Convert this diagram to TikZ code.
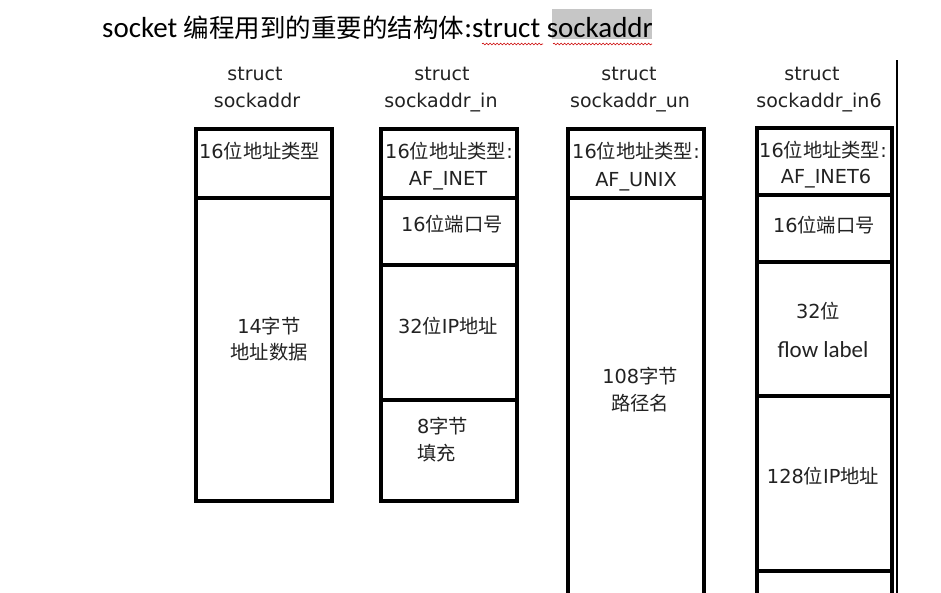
\documentclass[tikz,border=0pt]{standalone}
\usepackage{fontspec}
\setmainfont{DejaVu Sans}
\newfontfamily\cjk{Noto Sans CJK SC}
\newfontfamily\carl{Carlito}
\usetikzlibrary{decorations.pathmorphing}
\newcommand\cj[1]{{\cjk #1}}
\definecolor{txt}{HTML}{222222}
\begin{document}
\begin{tikzpicture}[x=1pt,y=-1pt,
  boxline/.style={line width=3.3pt, line cap=rect},
  lbl/.style={font=\fontsize{19}{27}\selectfont, text=txt, inner sep=0pt, anchor=base},
  cell/.style={font=\fontsize{19.3}{26.5}\selectfont, text=txt, inner sep=0pt, anchor=base},
  wavy/.style={red!80!black, line width=0.6pt, decorate, decoration={snake, amplitude=0.9pt, segment length=3.5pt}}]
\useasboundingbox (0,0) rectangle (941,592);
\clip (0,0) rectangle (941,592);
\fill[white] (0,0) rectangle (941,592);
% title
\fill[gray!45] (552,9) rectangle (652,39);
\node[anchor=base west, inner sep=0pt, text=black] (title) at (102,37)
  {{\carl\fontsize{29}{32}\selectfont socket }{\cjk\fontsize{25.5}{32}\selectfont 编程用到的重要的结构体}{\carl\fontsize{29}{32}\selectfont :struct sockaddr}};
\draw[wavy] (482,44) -- (543,44);
\draw[wavy] (553,44) -- (652,44);
% column labels
\node[lbl] (l1a) at (255,80) {struct};
\node[lbl] (l1b) at (257,107) {sockaddr};
\node[lbl] (l2a) at (442,80) {struct};
\node[lbl] (l2b) at (441,107) {sockaddr\_in};
\node[lbl] (l3a) at (629,80) {struct};
\node[lbl] (l3b) at (630,107) {sockaddr\_un};
\node[lbl] (l4a) at (812,80) {struct};
\node[lbl] (l4b) at (819,107) {sockaddr\_in6};
% separator line
\draw[line width=1.6pt] (897,60) -- (897,600);
% box 1
\draw[boxline] (196,129) rectangle (332,501);
\draw[boxline] (196,198) -- (332,198);
\node[cell, anchor=base west] (b1a) at (199,158) {16\cj{位地址类型}};
\node[cell] (b1b1) at (269,333) {14\cj{字节}};
\node[cell] (b1b2) at (269,359) {\cj{地址数据}};
% box 2
\draw[boxline] (381,129) rectangle (517,501);
\draw[boxline] (381,198) -- (517,198);
\draw[boxline] (381,265) -- (517,265);
\draw[boxline] (381,400) -- (517,400);
\node[cell] (b2a1) at (449,158) {16\cj{位地址类型}:};
\node[cell] (b2a2) at (448,185) {AF\_INET};
\node[cell] (b2b) at (452,231) {16\cj{位端口号}};
\node[cell] (b2c) at (448,333) {32\cj{位}IP\cj{地址}};
\node[cell, anchor=base west] (b2d1) at (417,433) {8\cj{字节}};
\node[cell, anchor=base west] (b2d2) at (417,460) {\cj{填充}};
% box 3
\draw[boxline] (568,129) -- (568,620) (704,129) -- (704,620) (568,129) -- (704,129);
\draw[boxline] (568,198) -- (704,198);
\node[cell] (b3a1) at (636,158) {16\cj{位地址类型}:};
\node[cell] (b3a2) at (636,186) {AF\_UNIX};
\node[cell] (b3b1) at (640,383) {108\cj{字节}};
\node[cell] (b3b2) at (640,410) {\cj{路径名}};
% box 4
\draw[boxline] (757,128) -- (757,620) (892,128) -- (892,620) (757,128) -- (892,128);
\draw[boxline] (757,195) -- (892,195);
\draw[boxline] (757,262) -- (892,262);
\draw[boxline] (757,396) -- (892,396);
\draw[boxline] (757,571) -- (892,571);
\node[cell] (b4a1) at (823,157) {16\cj{位地址类型}:};
\node[cell] (b4a2) at (826,183) {AF\_INET6};
\node[cell] (b4b) at (824,232) {16\cj{位端口号}};
\node[cell] (b4c) at (818,318) {32\cj{位}};
\node[cell, font=\carl\fontsize{23}{26}\selectfont] (b4d) at (823,357) {flow label};
\node[cell] (b4e) at (823,483) {128\cj{位}IP\cj{地址}};
\end{tikzpicture}
\end{document}
